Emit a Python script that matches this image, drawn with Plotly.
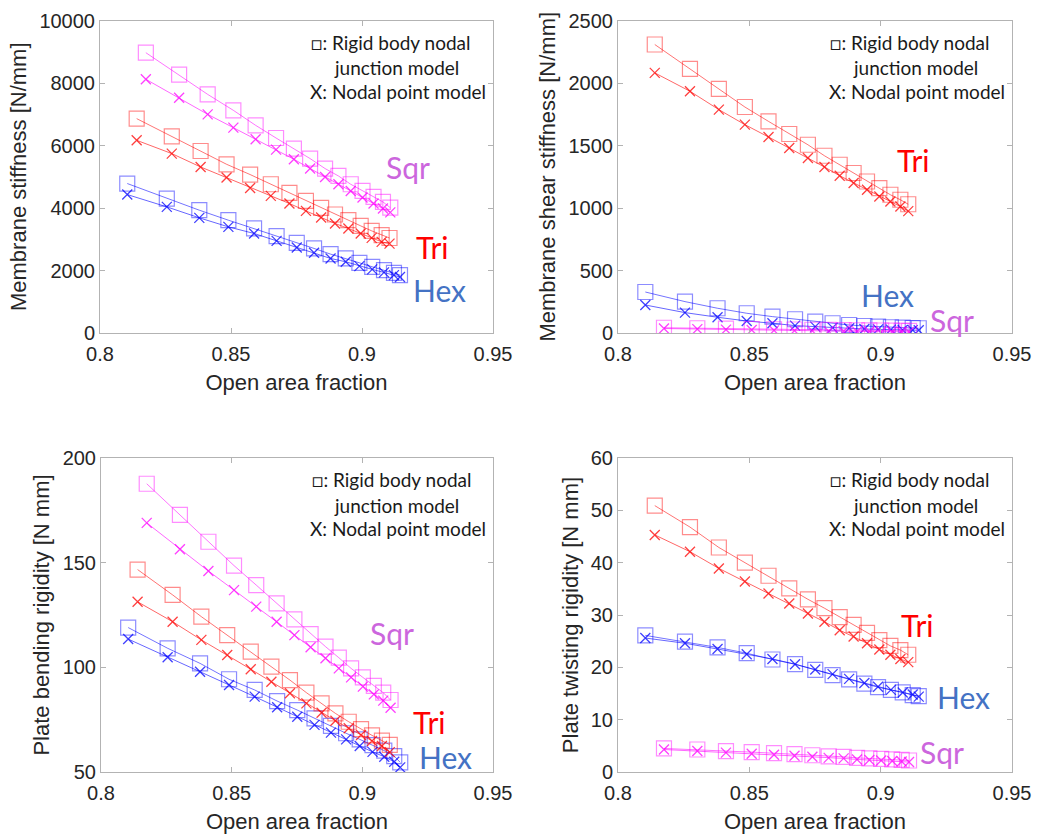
import plotly.graph_objects as go

# Open area fraction of each lattice family (same geometries in every panel)
x_sqr = [0.8175, 0.8302, 0.8411, 0.8509, 0.8594, 0.8672, 0.8740, 0.8802,
         0.8859, 0.8910, 0.8957, 0.9002, 0.9044, 0.9080, 0.9108]
x_tri = [0.8140, 0.8274, 0.8384, 0.8483, 0.8573, 0.8652, 0.8723, 0.8786,
         0.8844, 0.8897, 0.8948, 0.8995, 0.9037, 0.9075, 0.9105]
x_hex = [0.8104, 0.8255, 0.8379, 0.8490, 0.8588, 0.8674, 0.8751, 0.8817,
         0.8880, 0.8938, 0.8990, 0.9039, 0.9084, 0.9122, 0.9145]

# Membrane stiffness [N/mm]
ms_sqr_rigid = [8970, 8265, 7636, 7125, 6645, 6240, 5900, 5581, 5262, 5026, 4760, 4546, 4355, 4195, 4010]
ms_sqr_nodal = [8120, 7530, 6997, 6571, 6198, 5869, 5559, 5262, 4994, 4760, 4546, 4335, 4144, 3984, 3860]
ms_tri_rigid = [6860, 6294, 5824, 5399, 5070, 4760, 4483, 4227, 4003, 3792, 3610, 3428, 3268, 3131, 3040]
ms_tri_nodal = [6166, 5741, 5313, 4974, 4642, 4387, 4144, 3907, 3696, 3505, 3345, 3185, 3045, 2917, 2860]
ms_hex_rigid = [4783, 4303, 3930, 3610, 3345, 3099, 2885, 2706, 2524, 2386, 2246, 2118, 2013, 1927, 1853]
ms_hex_nodal = [4430, 4036, 3685, 3396, 3185, 2949, 2738, 2566, 2386, 2278, 2141, 2035, 1939, 1853, 1790]

# Membrane shear stiffness [N/mm]
sh_sqr_rigid = [42, 38, 35, 32, 30, 28, 26, 25, 23, 22, 21, 20, 19, 18, 17]
sh_sqr_nodal = [36, 31, 27, 24, 21, 19, 17, 15, 14, 13, 12, 11, 10, 10, 9]
sh_tri_rigid = [2308, 2113, 1953, 1808, 1693, 1592, 1506, 1418, 1346, 1280, 1212, 1159, 1106, 1066, 1030]
sh_tri_nodal = [2081, 1934, 1787, 1667, 1568, 1480, 1400, 1328, 1258, 1200, 1146, 1092, 1052, 1012, 975]
sh_hex_rigid = [328, 251, 198, 158, 131, 110, 91, 78, 64, 56, 51, 46, 43, 40, 38]
sh_hex_nodal = [224, 163, 126, 96, 78, 59, 51, 43, 38, 32, 29, 27, 24, 23, 22]

# Plate bending rigidity [N mm]
pb_sqr_rigid = [187.7, 172.8, 160.0, 148.6, 139.3, 130.6, 122.9, 115.9, 109.9, 104.6, 99.5, 95.2, 91.1, 87.9, 84.4]
pb_sqr_nodal = [169.0, 156.4, 146.0, 136.9, 129.0, 121.8, 115.4, 109.6, 104.3, 99.5, 95.2, 90.8, 87.1, 84.1, 80.7]
pb_tri_rigid = [146.7, 134.6, 124.2, 115.4, 107.5, 100.3, 93.9, 87.9, 82.8, 78.0, 74.0, 70.5, 67.5, 65.0, 63.0]
pb_tri_nodal = [131.3, 121.8, 113.1, 105.9, 99.1, 93.1, 87.6, 82.8, 78.3, 74.5, 70.9, 67.7, 64.8, 62.4, 59.5]
pb_hex_rigid = [119.0, 109.1, 101.9, 94.3, 89.2, 83.9, 79.6, 75.6, 72.0, 68.5, 65.6, 62.8, 60.2, 57.6, 54.6]
pb_hex_nodal = [113.5, 104.8, 97.9, 91.6, 86.0, 80.9, 76.4, 72.5, 68.8, 65.6, 62.4, 59.6, 57.3, 54.9, 52.2]

# Plate twisting rigidity [N mm]
pt_sqr_rigid = [4.5, 4.3, 4.0, 3.8, 3.6, 3.4, 3.2, 3.0, 2.9, 2.7, 2.6, 2.5, 2.4, 2.3, 2.2]
pt_sqr_nodal = [4.3, 4.0, 3.7, 3.5, 3.3, 3.1, 2.9, 2.7, 2.6, 2.4, 2.3, 2.2, 2.1, 2.0, 1.9]
pt_tri_rigid = [50.9, 46.8, 42.9, 40.0, 37.5, 35.1, 33.0, 31.3, 29.6, 28.1, 26.6, 25.2, 24.1, 23.3, 22.4]
pt_tri_nodal = [45.3, 42.1, 38.9, 36.4, 34.1, 32.2, 30.3, 28.7, 27.1, 25.9, 24.6, 23.4, 22.4, 21.6, 21.0]
pt_hex_rigid = [26.1, 24.9, 23.8, 22.7, 21.5, 20.6, 19.5, 18.5, 17.7, 16.9, 16.2, 15.7, 15.2, 14.7, 14.5]
pt_hex_nodal = [25.6, 24.6, 23.5, 22.5, 21.6, 20.6, 19.6, 18.7, 17.8, 17.0, 16.3, 15.7, 15.2, 14.8, 14.4]

x_ticks = [0.8, 0.85, 0.9, 0.95]
x_tick_text = ["0.8", "0.85", "0.9", "0.95"]

RGB = {"Sqr": (255, 0, 255), "Tri": (255, 0, 0), "Hex": (0, 0, 255)}
LABEL_COLOR = {"Sqr": "#cc66dd", "Tri": "#ff0000", "Hex": "#4472c4"}
X_OF = {"Sqr": x_sqr, "Tri": x_tri, "Hex": x_hex}

panels = [
    dict(title="Membrane stiffness [N/mm]", yrange=[0, 10000], dtick=2000,
         data={"Sqr": (ms_sqr_rigid, ms_sqr_nodal), "Tri": (ms_tri_rigid, ms_tri_nodal),
               "Hex": (ms_hex_rigid, ms_hex_nodal)},
         labels={"Sqr": (0.784, 0.530), "Tri": (0.847, 0.275), "Hex": (0.865, 0.137)}),
    dict(title="Membrane shear stiffness [N/mm]", yrange=[0, 2500], dtick=500,
         data={"Sqr": (sh_sqr_rigid, sh_sqr_nodal), "Tri": (sh_tri_rigid, sh_tri_nodal),
               "Hex": (sh_hex_rigid, sh_hex_nodal)},
         labels={"Tri": (0.749, 0.554), "Hex": (0.685, 0.122), "Sqr": (0.848, 0.042)}),
    dict(title="Plate bending rigidity [N mm]", yrange=[50, 200], dtick=50,
         data={"Sqr": (pb_sqr_rigid, pb_sqr_nodal), "Tri": (pb_tri_rigid, pb_tri_nodal),
               "Hex": (pb_hex_rigid, pb_hex_nodal)},
         labels={"Sqr": (0.742, 0.443), "Tri": (0.839, 0.159), "Hex": (0.878, 0.048)}),
    dict(title="Plate twisting rigidity [N mm]", yrange=[0, 60], dtick=10,
         data={"Sqr": (pt_sqr_rigid, pt_sqr_nodal), "Tri": (pt_tri_rigid, pt_tri_nodal),
               "Hex": (pt_hex_rigid, pt_hex_nodal)},
         labels={"Tri": (0.759, 0.468), "Hex": (0.876, 0.239), "Sqr": (0.822, 0.064)}),
]

W, H = 1037, 838
# plot-area boxes in pixels: (left, right, top, bottom)
boxes = [(100, 493, 20.5, 333), (618, 1012, 20.5, 333),
         (101, 493, 458, 772), (618, 1012, 458, 772)]

fig = go.Figure()
annotations = []
layout = {}
AX_COLOR = "#b3b3b3"
TXT = "#262626"
FONT = "Arial, Liberation Sans, sans-serif"

for i, (p, box) in enumerate(zip(panels, boxes)):
    n = "" if i == 0 else str(i + 1)
    xa, ya = "x" + n, "y" + n
    l, r, t, b = box
    for shape in ["Hex", "Tri", "Sqr"]:
        rr, gg, bb = RGB[shape]
        rigid, nodal = p["data"][shape]
        fig.add_trace(go.Scatter(
            x=X_OF[shape], y=rigid, xaxis=xa, yaxis=ya, mode="lines+markers",
            line=dict(color=f"rgba({rr},{gg},{bb},0.55)", width=1),
            marker=dict(symbol="square-open", size=15,
                        color=f"rgba({rr},{gg},{bb},0.45)", line=dict(width=1.2)),
            showlegend=False))
        fig.add_trace(go.Scatter(
            x=X_OF[shape], y=nodal, xaxis=xa, yaxis=ya, mode="lines+markers",
            line=dict(color=f"rgba({rr},{gg},{bb},0.6)", width=1),
            marker=dict(symbol="x-thin-open", size=10,
                        color=f"rgba({rr},{gg},{bb},0.75)", line=dict(width=1.3)),
            showlegend=False))
    layout["xaxis" + n] = dict(
        domain=[l / W, r / W], anchor=ya, range=[0.8, 0.95], automargin=False,
        tickvals=x_ticks, ticktext=x_tick_text, ticklabelstandoff=3,
        showline=True, linecolor=AX_COLOR, linewidth=1, mirror="ticks",
        ticks="inside", ticklen=5, tickcolor=AX_COLOR, showgrid=False, zeroline=False,
        tickfont=dict(family=FONT, size=20, color=TXT),
        title=dict(text="Open area fraction", standoff=10,
                   font=dict(family=FONT, size=22, color=TXT)))
    layout["yaxis" + n] = dict(
        domain=[1 - b / H, 1 - t / H], anchor=xa, range=p["yrange"], dtick=p["dtick"],
        tickformat="d", automargin=False,
        showline=True, linecolor=AX_COLOR, linewidth=1, mirror="ticks",
        ticks="inside", ticklen=5, tickcolor=AX_COLOR, showgrid=False, zeroline=False,
        tickfont=dict(family=FONT, size=20, color=TXT),
        title=dict(text=p["title"], standoff=6,
                   font=dict(family=FONT, size=22, color=TXT)))
    for shape, (fx, fy) in p["labels"].items():
        annotations.append(dict(
            text=shape, xref=xa + " domain", yref=ya + " domain", x=fx, y=fy,
            showarrow=False, xanchor="center", yanchor="middle",
            font=dict(family="Lato", size=30, color=LABEL_COLOR[shape])))
    for txt, fx, fy in [("\u25a1: Rigid body nodal", 0.740, 0.930),
                        ("junction model", 0.755, 0.850),
                        ("X: Nodal point model", 0.758, 0.774)]:
        annotations.append(dict(
            text=txt, xref=xa + " domain", yref=ya + " domain", x=fx, y=fy,
            showarrow=False, xanchor="center", yanchor="middle",
            font=dict(family="Lato", size=19, color="#1a1a1a")))

fig.update_layout(
    template="none",
    width=W, height=H, margin=dict(l=0, r=0, t=0, b=0),
    paper_bgcolor="white", plot_bgcolor="white",
    annotations=annotations, **layout)

fig.write_html("out.html")
